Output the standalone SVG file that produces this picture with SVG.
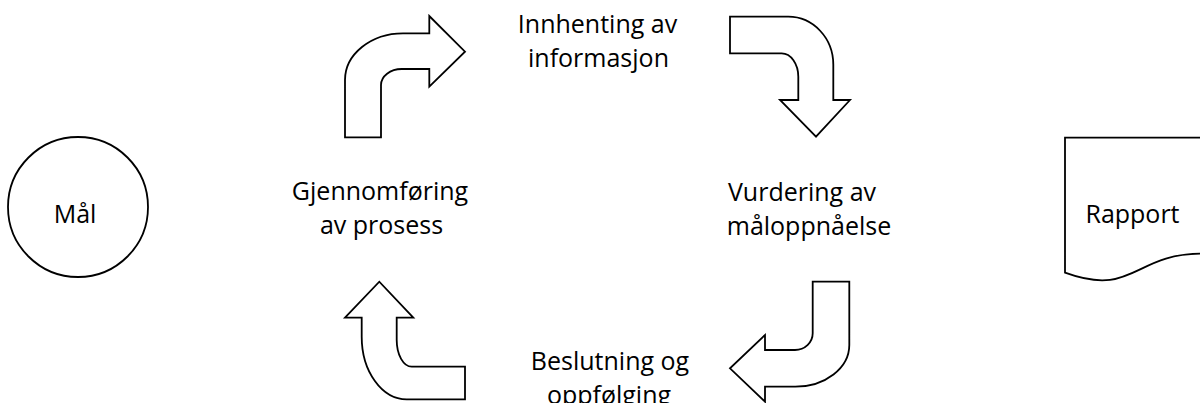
<svg xmlns="http://www.w3.org/2000/svg" width="1200" height="403" viewBox="0 0 1200 403">
  <style>
    .shape { fill: #ffffff; stroke: #000000; stroke-width: 1.8; stroke-linejoin: miter; }
    .label { font-family: "Open Sans", "Noto Sans", sans-serif; font-size: 25px; fill: #000000; text-anchor: middle; }
  </style>
  <rect x="0" y="0" width="1200" height="403" fill="#ffffff"/>
  <g id="connectors">
    <path id="arrow-top-left" class="shape" d="M345,137.3 V80 A58,46.7 0 0 1 403,33.3 H429.3 V16 L465,51.7 L429.3,86.7 V69 H401.7 A20.7,16 0 0 0 381,85 V137.3 Z"/>
    <path id="arrow-top-right" class="shape" d="M730,16.7 H788.3 A45,48 0 0 1 833.3,64.7 V100 H850 L816,136.7 L780,100 H798.3 V76.7 A16.6,23.4 0 0 0 781.7,53.3 H730 Z"/>
    <path id="arrow-bottom-right" class="shape" d="M849.3,281.7 V345 A54,41.7 0 0 1 795.3,386.7 H765 V401.7 L730,368.3 L765,335 V350 H795 A17.7,16.7 0 0 0 812.7,333.3 V281.7 Z"/>
    <path id="arrow-bottom-left" class="shape" d="M465,399.3 H406.7 A45,62.6 0 0 1 361.7,336.7 V317.7 H345 L379.3,281.7 L413.3,317.7 H396.7 V340 A15,26.7 0 0 0 411.7,366.7 H465 Z"/>
  </g>
  <g id="node-maal">
    <circle class="shape" cx="78" cy="207" r="70"/>
    <text class="label" x="75" y="223">Mål</text>
  </g>
  <g id="node-innhenting">
    <text class="label" x="597.5" y="33">Innhenting av</text>
    <text class="label" x="598.5" y="67">informasjon</text>
  </g>
  <g id="node-gjennomforing">
    <text class="label" x="380" y="200">Gjennomføring</text>
    <text class="label" x="381.5" y="234">av prosess</text>
  </g>
  <g id="node-vurdering">
    <text class="label" x="802" y="201">Vurdering av</text>
    <text class="label" x="809" y="235">måloppnåelse</text>
  </g>
  <g id="node-beslutning">
    <text class="label" x="610" y="370">Beslutning og</text>
    <text class="label" x="609" y="404">oppfølging</text>
  </g>
  <g id="node-rapport">
    <path class="shape" d="M1065,137.7 H1202 V253.6 C1133.5,253.6 1133.5,297.7 1065,272.7 Z"/>
    <text class="label" x="1132.5" y="223">Rapport</text>
  </g>
</svg>
